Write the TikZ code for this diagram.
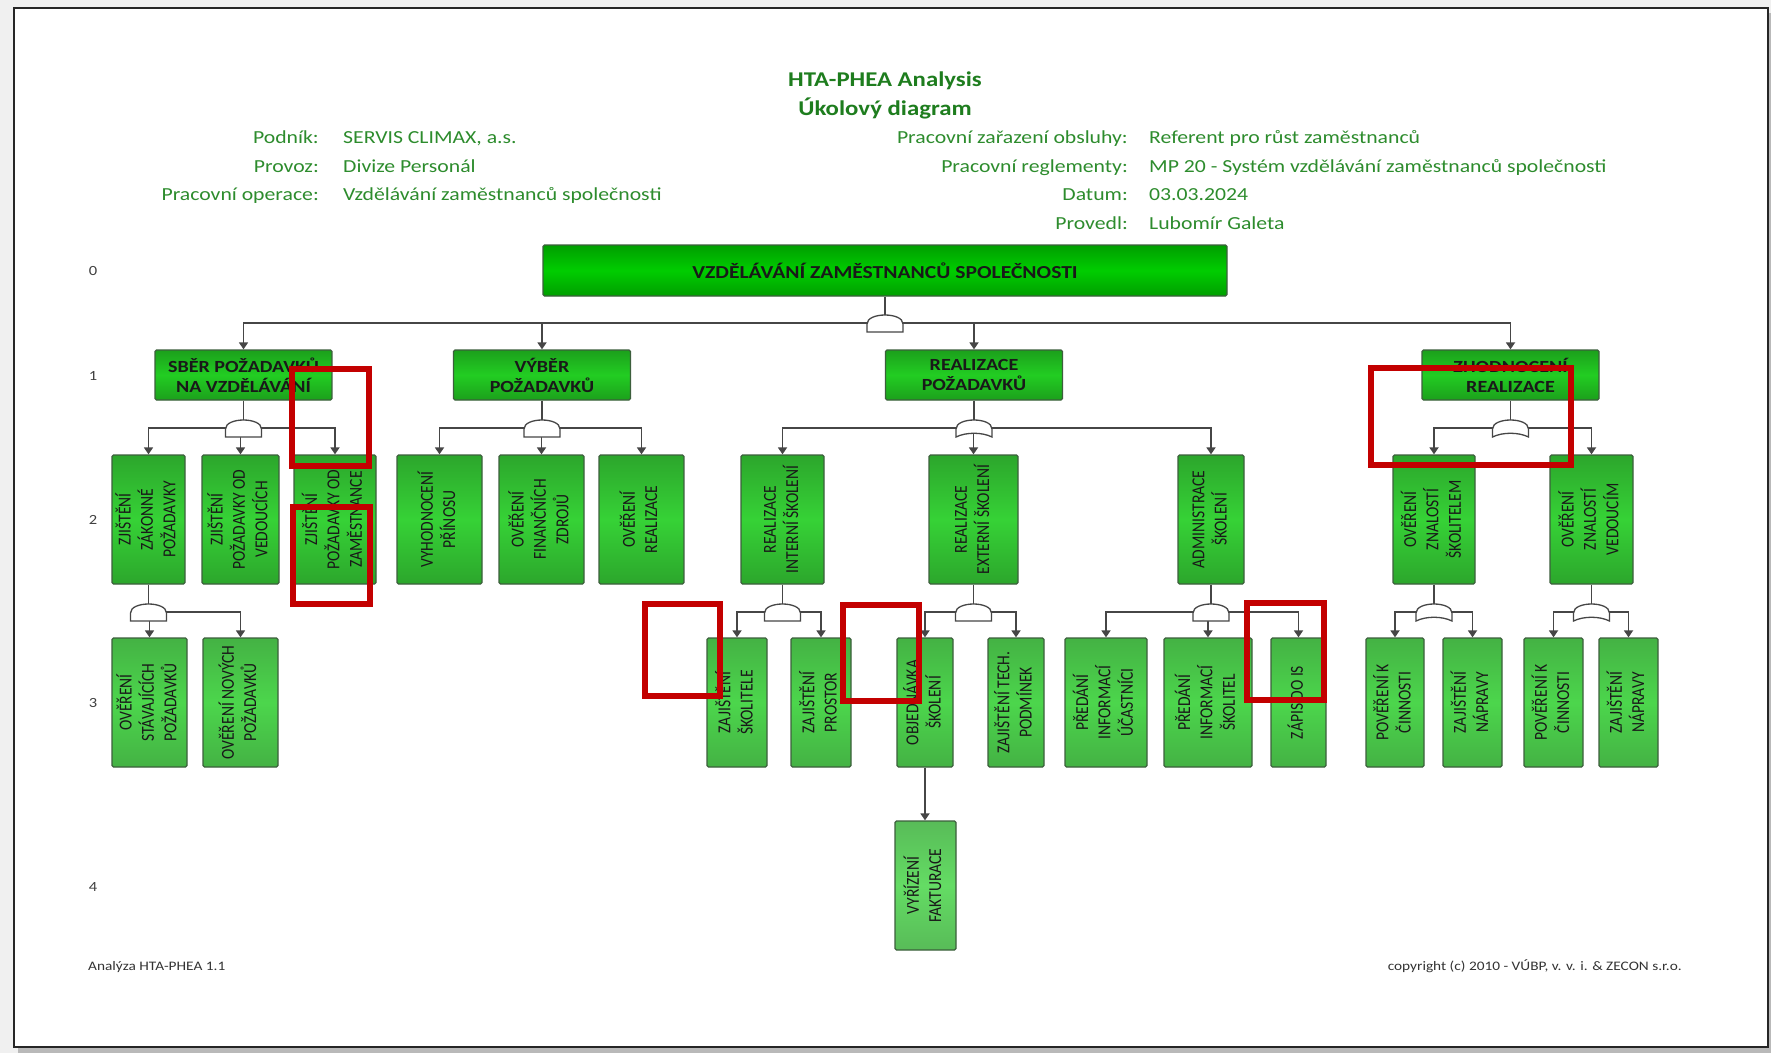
\documentclass[tikz,border=0pt]{standalone}
\usepackage{fontspec}
\setmainfont{Carlito}[FakeStretch=1.18]
\newfontfamily\upfont{Carlito}[FakeStretch=0.85]
\usepackage{graphicx}
\usepackage{xcolor}
\usetikzlibrary{arrows.meta}
\definecolor{titlegreen}{RGB}{30,125,30}
\definecolor{headgreen}{RGB}{45,140,45}
\definecolor{markred}{RGB}{195,0,0}
\definecolor{linegray}{RGB}{70,70,70}
\definecolor{boxline}{RGB}{60,95,60}
\definecolor{gOa}{RGB}{0,158,0}
\definecolor{gOb}{RGB}{0,205,0}
\definecolor{gIa}{RGB}{28,160,28}
\definecolor{gIb}{RGB}{34,205,34}
\definecolor{gIIa}{RGB}{44,166,44}
\definecolor{gIIb}{RGB}{54,210,54}
\definecolor{gIIIa}{RGB}{68,178,68}
\definecolor{gIIIb}{RGB}{76,214,76}
\definecolor{gIVa}{RGB}{88,188,88}
\definecolor{gIVb}{RGB}{100,220,100}
\newcommand{\vlab}[1]{\rotatebox{90}{\upfont\fontsize{18.3}{22.3}\selectfont\begin{tabular}{@{}c@{}}#1\end{tabular}}}

\begin{document}
\begin{tikzpicture}[x=1pt,y=-1pt]
	\tikzstyle{box}=[draw=boxline,line width=1.3pt,rounded corners=1.5pt,inner sep=0pt,align=center,text=black!90]
	\tikzstyle{root}=[box,minimum width=684pt,minimum height=51pt,top color=gOa,bottom color=gOa,middle color=gOb,font=\fontsize{18.3}{21}\selectfont\bfseries]
	\tikzstyle{phase}=[box,minimum width=177pt,minimum height=50pt,top color=gIa,bottom color=gIa,middle color=gIb,font=\fontsize{17}{20}\selectfont\bfseries]
	\tikzstyle{task}=[box,minimum height=129pt,top color=gIIa,bottom color=gIIa,middle color=gIIb]
	\tikzstyle{subtask}=[box,minimum height=129pt,top color=gIIIa,bottom color=gIIIa,middle color=gIIIb]
	\tikzstyle{action}=[box,minimum height=129pt,top color=gIVa,bottom color=gIVa,middle color=gIVb]
	\tikzstyle{link}=[draw=linegray,line width=1.7pt]
	\tikzstyle{arr}=[link,-{Triangle[width=9pt,length=7pt]}]
	\tikzstyle{gate}=[draw=linegray,line width=1.3pt,fill=white]
	\tikzstyle{redbox}=[draw=markred,line width=6pt]
	\tikzstyle{hlab}=[inner sep=0pt,text=headgreen,font=\fontsize{18.4}{21}\selectfont]
	\tikzstyle{htitle}=[inner sep=0pt,text=titlegreen,font=\fontsize{21}{24}\selectfont\bfseries]
	\tikzstyle{lvlnum}=[inner sep=0pt,text=black!75,font=\fontsize{14}{16}\selectfont]
	\tikzstyle{foot}=[inner sep=0pt,text=black!80,font=\fontsize{13}{15}\selectfont]
	\tikzset{
		andgate/.pic={\path[gate] (-18,9) -- (-18,1) .. controls (-18,-11) and (18,-11) .. (18,1) -- (18,9) -- cycle;},
		orgate/.pic={\path[gate] (-18,9) -- (-18,1) .. controls (-18,-11) and (18,-11) .. (18,1) -- (18,9) .. controls (8,4) and (-8,4) .. (-18,9) -- cycle;}
	}
	\useasboundingbox (0,0) rectangle (1771,1053);
	
	% page
	\fill[gray!12] (0,0) rectangle (1771,1053);
	\fill[gray!55] (18,13) rectangle (1771,1053);
	\draw[fill=white,draw=black!85,line width=1.5pt] (14,8) rectangle (1768,1047);
	
	% header
	\node[htitle] (title) at (885,81) {HTA-PHEA Analysis};
	\node[htitle] (subtitle) at (885,108) {Úkolový diagram};
	\node[hlab,anchor=base east] (kPod) at (319,143) {Podník:};
	\node[hlab,anchor=base west] (vPod) at (343,143) {SERVIS CLIMAX, a.s.};
	\node[hlab,anchor=base east] (kPro) at (319,172) {Provoz:};
	\node[hlab,anchor=base west] (vPro) at (343,172) {Divize Personál};
	\node[hlab,anchor=base east] (kOpe) at (319,200) {Pracovní operace:};
	\node[hlab,anchor=base west] (vOpe) at (343,200) {Vzdělávání zaměstnanců společnosti};
	\node[hlab,anchor=base east] (kZar) at (1128,143) {Pracovní zařazení obsluhy:};
	\node[hlab,anchor=base west] (vZar) at (1149,143) {Referent pro růst zaměstnanců};
	\node[hlab,anchor=base east] (kReg) at (1128,172) {Pracovní reglementy:};
	\node[hlab,anchor=base west] (vReg) at (1149,172) {MP 20 - Systém vzdělávání zaměstnanců společnosti};
	\node[hlab,anchor=base east] (kDat) at (1128,200) {Datum:};
	\node[hlab,anchor=base west] (vDat) at (1149,200) {03.03.2024};
	\node[hlab,anchor=base east] (kPrv) at (1128,229) {Provedl:};
	\node[hlab,anchor=base west] (vPrv) at (1149,229) {Lubomír Galeta};
	
	% level numbers
	\node[lvlnum] (n0) at (93,271) {0};
	\node[lvlnum] (n1) at (93,376) {1};
	\node[lvlnum] (n2) at (93,520) {2};
	\node[lvlnum] (n3) at (93,703) {3};
	\node[lvlnum] (n4) at (93,887) {4};
	
	% level 0 and 1
	\node[root] (root) at (885,270.5) {VZDĚLÁVÁNÍ ZAMĚSTNANCŮ SPOLEČNOSTI};
	\node[phase] (sber) at (243.5,375) {SBĚR POŽADAVKŮ\\NA VZDĚLÁVÁNÍ};
	\node[phase] (vyber) at (542,375) {VÝBĚR\\POŽADAVKŮ};
	\node[phase] (realiz) at (974,375) {REALIZACE\\POŽADAVKŮ};
	\node[phase] (zhodn) at (1510.5,375) {ZHODNOCENÍ\\REALIZACE};
	
	% level 2
	\node[task,minimum width=73pt] (zZak) at (148.5,519.5) {\vlab{ZJIŠTĚNÍ\\ZÁKONNÉ\\POŽADAVKY}};
	\node[task,minimum width=77pt] (zVed) at (240.5,519.5) {\vlab{ZJIŠTĚNÍ\\POŽADAVKY OD\\VEDOUCÍCH}};
	\node[task,minimum width=82pt] (zZam) at (335,519.5) {\vlab{ZJIŠTĚNÍ\\POŽADAVKY OD\\ZAMĚSTNANCE}};
	\node[task,minimum width=85pt] (vPri) at (439.5,519.5) {\vlab{VYHODNOCENÍ\\PŘÍNOSU}};
	\node[task,minimum width=85pt] (vFin) at (541.5,519.5) {\vlab{OVĚŘENÍ\\FINANČNÍCH\\ZDROJŮ}};
	\node[task,minimum width=85pt] (vRea) at (641.5,519.5) {\vlab{OVĚŘENÍ\\REALIZACE}};
	\node[task,minimum width=83pt] (rInt) at (782.5,519.5) {\vlab{REALIZACE\\INTERNÍ ŠKOLENÍ}};
	\node[task,minimum width=89pt] (rExt) at (973.5,519.5) {\vlab{REALIZACE\\EXTERNÍ ŠKOLENÍ}};
	\node[task,minimum width=66pt] (rAdm) at (1211,519.5) {\vlab{ADMINISTRACE\\ŠKOLENÍ}};
	\node[task,minimum width=82pt] (hSko) at (1434,519.5) {\vlab{OVĚŘENÍ\\ZNALOSTÍ\\ŠKOLITELEM}};
	\node[task,minimum width=83pt] (hVed) at (1591.5,519.5) {\vlab{OVĚŘENÍ\\ZNALOSTÍ\\VEDOUCÍM}};
	
	% level 3
	\node[subtask,minimum width=75pt] (oSta) at (149.5,702.5) {\vlab{OVĚŘENÍ\\STÁVAJÍCÍCH\\POŽADAVKŮ}};
	\node[subtask,minimum width=75pt] (oNov) at (240.5,702.5) {\vlab{OVĚŘENÍ NOVÝCH\\POŽADAVKŮ}};
	\node[subtask,minimum width=60pt] (iSko) at (737,702.5) {\vlab{ZAJIŠTĚNÍ\\ŠKOLITELE}};
	\node[subtask,minimum width=60pt] (iPro) at (821,702.5) {\vlab{ZAJIŠTĚNÍ\\PROSTOR}};
	\node[subtask,minimum width=56pt] (eObj) at (925,702.5) {\vlab{OBJEDNÁVKA\\ŠKOLENÍ}};
	\node[subtask,minimum width=56pt] (eTec) at (1016,702.5) {\vlab{ZAJIŠTĚNÍ TECH.\\PODMÍNEK}};
	\node[subtask,minimum width=82pt] (aUca) at (1106,702.5) {\vlab{PŘEDÁNÍ\\INFORMACÍ\\ÚČASTNÍCI}};
	\node[subtask,minimum width=88pt] (aSko) at (1208,702.5) {\vlab{PŘEDÁNÍ\\INFORMACÍ\\ŠKOLITEL}};
	\node[subtask,minimum width=55pt] (aZap) at (1298.5,702.5) {\vlab{ZÁPIS DO IS}};
	\node[subtask,minimum width=58pt] (sPov) at (1395,702.5) {\vlab{POVĚŘENÍ K\\ČINNOSTI}};
	\node[subtask,minimum width=59pt] (sNap) at (1472.5,702.5) {\vlab{ZAJIŠTĚNÍ\\NÁPRAVY}};
	\node[subtask,minimum width=59pt] (vPov) at (1553.5,702.5) {\vlab{POVĚŘENÍ K\\ČINNOSTI}};
	\node[subtask,minimum width=59pt] (vNap) at (1628.5,702.5) {\vlab{ZAJIŠTĚNÍ\\NÁPRAVY}};
	
	% level 4
	\node[action,minimum width=61pt] (fakt) at (925.5,885.5) {\vlab{VYŘÍZENÍ\\FAKTURACE}};
	
	% gates
	\coordinate (g0) at (885,323);
	\coordinate (gSber) at (243.5,428);
	\coordinate (gVyber) at (542,428);
	\coordinate (gReal) at (974,428);
	\coordinate (gZhod) at (1510.5,428);
	\coordinate (gZak) at (148.5,612);
	\coordinate (gInt) at (782.5,612);
	\coordinate (gExt) at (973.5,612);
	\coordinate (gAdm) at (1211,612);
	\coordinate (gSko) at (1434,612);
	\coordinate (gVed) at (1591.5,612);
	
	% connectors
	\draw[link] (root) -- (g0);
	\foreach \c in {sber,vyber,realiz,zhodn} \draw[arr] (g0) -| (\c.north);
	\draw[link] (sber) -- (gSber);
	\foreach \c in {zZak,zVed,zZam} \draw[arr] (gSber) -| (\c.north);
	\draw[link] (vyber) -- (gVyber);
	\foreach \c in {vPri,vFin,vRea} \draw[arr] (gVyber) -| (\c.north);
	\draw[link] (realiz) -- (gReal);
	\foreach \c in {rInt,rExt,rAdm} \draw[arr] (gReal) -| (\c.north);
	\draw[link] (zhodn) -- (gZhod);
	\foreach \c in {hSko,hVed} \draw[arr] (gZhod) -| (\c.north);
	\draw[link] (zZak) -- (gZak);
	\foreach \c in {oSta,oNov} \draw[arr] (gZak) -| (\c.north);
	\draw[link] (rInt) -- (gInt);
	\foreach \c in {iSko,iPro} \draw[arr] (gInt) -| (\c.north);
	\draw[link] (rExt) -- (gExt);
	\foreach \c in {eObj,eTec} \draw[arr] (gExt) -| (\c.north);
	\draw[link] (rAdm) -- (gAdm);
	\foreach \c in {aUca,aSko,aZap} \draw[arr] (gAdm) -| (\c.north);
	\draw[link] (hSko) -- (gSko);
	\foreach \c in {sPov,sNap} \draw[arr] (gSko) -| (\c.north);
	\draw[link] (hVed) -- (gVed);
	\foreach \c in {vPov,vNap} \draw[arr] (gVed) -| (\c.north);
	\draw[arr] (eObj.south) -- (eObj.south |- fakt.north);
	
	\pic at (g0) {andgate};
	\pic at (gSber) {andgate};
	\pic at (gVyber) {andgate};
	\pic at (gReal) {orgate};
	\pic at (gZhod) {orgate};
	\pic at (gZak) {andgate};
	\pic at (gInt) {andgate};
	\pic at (gExt) {andgate};
	\pic at (gAdm) {andgate};
	\pic at (gSko) {orgate};
	\pic at (gVed) {orgate};
	
	% footer
	\node[foot,anchor=base west] (fLeft) at (88,970) {Analýza HTA-PHEA 1.1};
	\node[foot,anchor=base east] (fRight) at (1682,970) {copyright (c) 2010 - VÚBP, v. v. i. \& ZECON s.r.o.};
	
	% red marks
	\draw[redbox] (292,369) rectangle (369,466);
	\draw[redbox] (293,507) rectangle (370,604);
	\draw[redbox] (645,604) rectangle (720,696);
	\draw[redbox] (843,605) rectangle (919,701);
	\draw[redbox] (1247,603) rectangle (1324,700);
	\draw[redbox] (1371,368) rectangle (1571,465);
\end{tikzpicture}
\end{document}
